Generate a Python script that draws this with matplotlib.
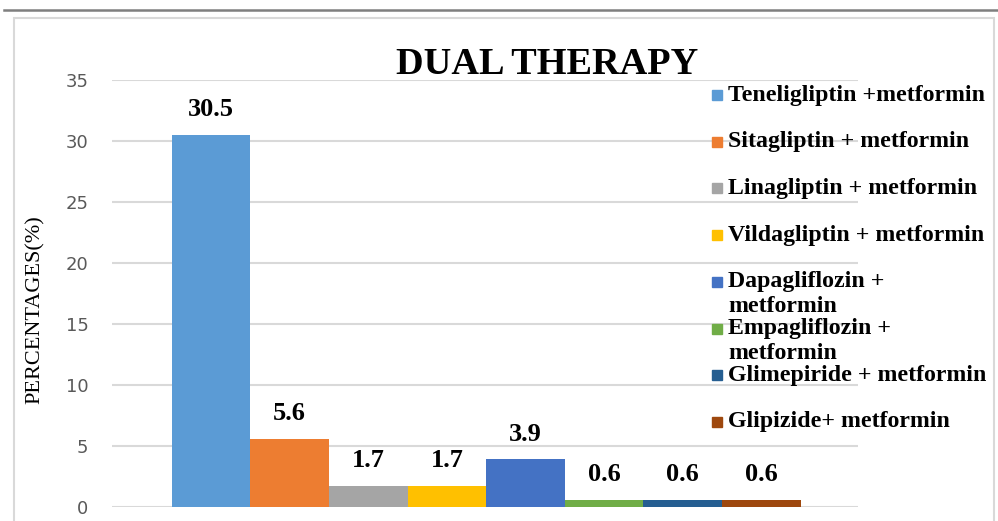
import matplotlib
matplotlib.use("Agg")
import matplotlib.pyplot as plt
from matplotlib.patches import Rectangle

# data
labels = ["Teneligliptin +metformin", "Sitagliptin + metformin",
          "Linagliptin + metformin", "Vildagliptin + metformin",
          "Dapagliflozin +\nmetformin", "Empagliflozin +\nmetformin",
          "Glimepiride + metformin", "Glipizide+ metformin"]
values = [30.5, 5.6, 1.7, 1.7, 3.9, 0.6, 0.6, 0.6]
colors = ["#5B9BD5", "#ED7D31", "#A5A5A5", "#FFC000",
          "#4472C4", "#70AD47", "#255E91", "#9E480E"]
yticks = [0, 5, 10, 15, 20, 25, 30, 35]

W, H = 998, 521
serif = ["Liberation Serif", "DejaVu Serif"]

fig = plt.figure(figsize=(W / 100, H / 100), dpi=100)

# page line and chart frame
fig.add_artist(plt.Line2D([4 / W, 1], [1 - 10 / H] * 2, color="#7f7f7f", lw=1.8))
fig.add_artist(Rectangle((14 / W, -0.05), (994 - 14) / W, 1 - 18 / H + 0.05,
                         transform=fig.transFigure, fill=False,
                         ec="#d9d9d9", lw=1.5))

ax = fig.add_axes([112 / W, 1 - 507 / H, (858 - 112) / W, (507 - 80) / H])
n = len(values)
xs = [i - (n - 1) / 2 for i in range(n)]
bars = ax.bar(xs, values, width=1.0, color=colors, zorder=3)
for b, v in zip(bars, values):
    ax.annotate(f"{v}", (b.get_x() + b.get_width() / 2, v),
                xytext=(0, 10), textcoords="offset points",
                ha="center", va="bottom", fontsize=19, fontweight="bold",
                family=serif, color="black")

ax.set_xlim(-n / 2 - 0.76, n / 2 + 0.73)
ax.set_ylim(0, 35)
ax.set_yticks(yticks)
ax.set_xticks([])
ax.yaxis.grid(True, color="#d9d9d9", lw=1.5, zorder=0)
for s in ax.spines.values():
    s.set_visible(False)
ax.tick_params(axis="y", length=0, pad=17, labelsize=13, labelcolor="#595959")

fig.text(547 / W, 1 - 64 / H, "DUAL THERAPY", ha="center", va="center",
         fontsize=27.5, fontweight="bold", family=serif)
fig.text(35 / W, 1 - 310 / H, "PERCENTAGES(%)", rotation=90,
         ha="center", va="center", fontsize=16, family=serif)

# legend, drawn row by row like the office chart (wrapped rows overflow)
row0, step, line_h = 95, 46.7, 25
for i, (lab, c) in enumerate(zip(labels, colors)):
    y = row0 + i * step
    fig.add_artist(Rectangle((712 / W, 1 - (y + 5) / H), 10 / W, 10 / H,
                             transform=fig.transFigure, color=c))
    for j, line in enumerate(lab.split("\n")):
        fig.text(728 / W, 1 - (y + j * line_h) / H, line, ha="left",
                 va="center", fontsize=17.2, fontweight="bold", family=serif)

fig.savefig("out.png", dpi=100)
